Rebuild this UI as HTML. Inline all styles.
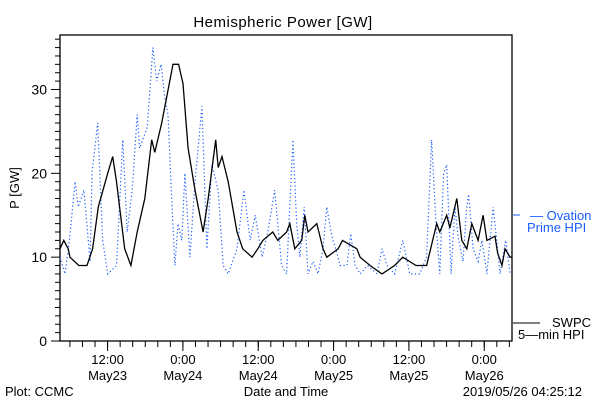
<!DOCTYPE html>
<html><head><meta charset="utf-8"><style>
body{margin:0;background:#fff;width:600px;height:400px;overflow:hidden}
svg{display:block;font-family:"Liberation Sans",sans-serif}
</style></head><body>
<svg id="chart" width="600" height="400" viewBox="0 0 600 400">
<text x="283" y="27" font-size="15" text-anchor="middle" letter-spacing="0.5">Hemispheric Power [GW]</text>
<text x="0" y="0" font-size="13" text-anchor="middle" transform="translate(19,188) rotate(-90)">P [GW]</text>
<text x="286" y="396" font-size="13" text-anchor="middle">Date and Time</text>
<text x="5" y="396" font-size="13">Plot: CCMC</text>
<text x="582" y="396" font-size="13" text-anchor="end">2019/05/26 04:25:12</text>
<g>
<line x1="513" y1="215" x2="520" y2="215" stroke="#1a5cff" stroke-width="1"/>
<text x="530" y="220" font-size="13" fill="#1a5cff">— Ovation</text>
<text x="527" y="232" font-size="13" fill="#1a5cff">Prime HPI</text>
</g>
<g>
<line x1="513" y1="323" x2="540" y2="323" stroke="#000" stroke-width="1"/>
<text x="552" y="327" font-size="13">SWPC</text>
<text x="518" y="339" font-size="13">5—min HPI</text>
</g>
<g id="plot"></g>
</svg>
<script>
const swpcTimes=[0,0.6,1.3,1.6,3,4.3,5.2,6.1,7.6,8.4,9,10.3,11.3,12.3,13.5,14.6,15.1,16.2,18,18.9,19.6,20.4,21.5,22.8,23.6,24.8,25.2,25.8,26.8,28.2,29.1,30.6,31.5,32.3,33.9,34.7,36.1,36.6,37.4,38.5,39,39.5,40.9,41.9,42.5,44.3,45,47.3,47.8,49.4,51.3,53.3,54.6,56.7,58.4,60,60.5,61.6,62.1,63.2,64,64.8,65.6,66.6,67.4,68,69.3,69.7,70.4,70.9,71.7,72];
const swpcValues=[11,12,11,10,9,9,11,16,20,22,19,11,9,13,17,24,22.5,26,33,33,30.7,23,18,13,17,24,20.7,22,19,13,11,10,11,12,13,12,13,14,11,12,15,13,14,11,10,11,12,11,10,9,8,9,10,9,9,14,13,15,13.5,17,12,11,14,12,15,12,12.5,10.5,9,11,10,10];
const ovTimes=[0,0.8,1.5,2.4,2.9,3.8,4.8,5.1,6,6.8,7.6,9,10,10.7,11.5,12.3,12.7,13.9,14.8,15.4,16.1,16.7,17.2,17.8,18.3,18.8,19.4,19.9,20.7,21.5,22.6,23.4,24.2,25.2,26,26.8,28.2,29.3,30.3,31.1,32.2,33.1,34.2,35.3,36.1,37.1,37.7,38.2,38.9,39.5,40.3,41.1,41.9,42.5,43.3,44.1,44.6,45.7,46.3,47,47.8,49,50.5,51.3,52.1,53.3,54.6,55.7,57.3,58.4,59.2,59.9,60.5,61.1,61.6,62.3,62.9,63.4,64.2,64.8,65.1,65.8,66.6,67.2,68,69,70.1,71,71.7];
const ovValues=[10,8,12,19,16,18,9.5,20,26,12,8,9,24,13,18,27,23,25.5,35,31,33,29,27,17,9,14,12,20,10,19,28,11,21,18,9,8,11,18,12,15,10,13,18,9,8,24,14,10,16,8,9.5,8,11,16,12.5,10.5,9,9,12.8,9,8,9,8,11,9,8,12,8,8,10,24,14,8,20,21,8,16,12.5,9.5,16,17.5,11,9.5,12,8,16,8,12,8];
const yTicks=[0,10,20,30];
const xTickHours=[7.58,19.58,31.58,43.58,55.58,67.58];
const xTickTimes=["12:00","0:00","12:00","0:00","12:00","0:00"];
const xTickDates=["May23","May24","May24","May25","May25","May26"];
const L=60,R=512,T=35,B=341,TMAX=72,VMAX=36.5;
const xs=t=>L+t*(R-L)/TMAX, ys=v=>B-v*(B-T)/VMAX;
const NS="http://www.w3.org/2000/svg", g=document.getElementById('plot');
function mk(tag,at){const e=document.createElementNS(NS,tag);for(const k in at)e.setAttribute(k,at[k]);g.appendChild(e);return e;}
const frame=mk('rect',{x:L,y:T,width:R-L,height:B-T,fill:'none',stroke:'#000','stroke-width':1.3});


for(let v=0;v<=36;v++){const y=ys(v),maj=v%10===0;
 const tk=mk('line',{x1:maj?L-9:L-5,y1:y,x2:L,y2:y,stroke:'#000'});
 
 }
yTicks.forEach(v=>{const t=mk('text',{x:L-13,y:ys(v)+5,'font-size':14,'text-anchor':'end'});t.textContent=v;
 
 });
for(let h=-0.42;h<=TMAX;h+=2){if(h<0)continue;const x=xs(h);
 const tk=mk('line',{x1:x,y1:B,x2:x,y2:B+6,stroke:'#000'});
 
 }
xTickHours.forEach((h,i)=>{const x=xs(h);
 const tk=mk('line',{x1:x,y1:B,x2:x,y2:B+10,stroke:'#000'});
 
 
 const a=mk('text',{x:x,y:364,'font-size':13,'text-anchor':'middle'});a.textContent=xTickTimes[i];
 
 
 const b=mk('text',{x:x,y:380,'font-size':13,'text-anchor':'middle'});b.textContent=xTickDates[i];
 
 });
let op=ovTimes.map((t,i)=>xs(t).toFixed(1)+','+ys(ovValues[i]).toFixed(1)).join(' ');
const ov=mk('polyline',{points:op,fill:'none',stroke:'#1a5cff','stroke-width':1.2,'stroke-dasharray':'1.2,2.5'});


let sp=swpcTimes.map((t,i)=>xs(t).toFixed(1)+','+ys(swpcValues[i]).toFixed(1));
const sw=mk('polyline',{points:sp.join(' '),fill:'none',stroke:'#000','stroke-width':1.3});


</script>
</body></html>
